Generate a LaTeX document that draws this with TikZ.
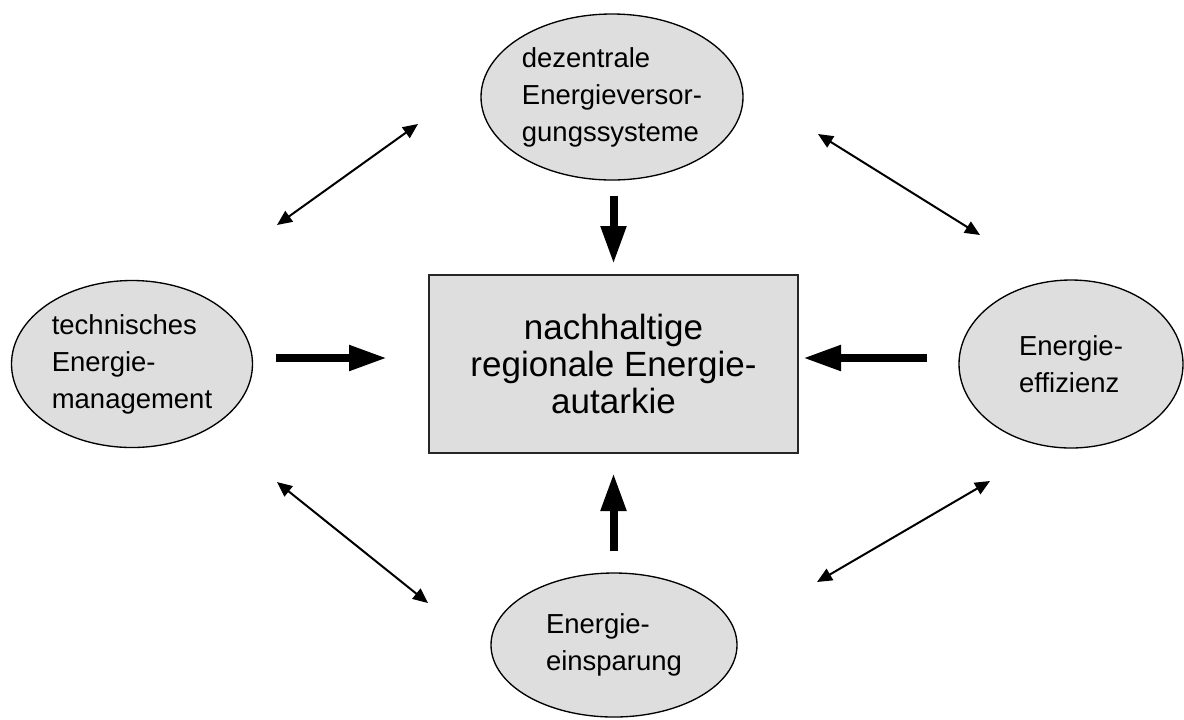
\documentclass[tikz,border=0pt]{standalone}
\usepackage{fontspec}
\setmainfont{Liberation Sans}
\usetikzlibrary{arrows.meta,shapes.geometric}
\begin{document}
\begin{tikzpicture}[x=0.75pt,y=-0.75pt,
  oval/.style={ellipse, draw=black, line width=1pt, fill=black!13, inner sep=0pt, align=left,
    font=\fontsize{20.6}{27.75}\selectfont},
  centerbox/.style={rectangle, draw=black!85, line width=1.5pt, fill=black!13, inner sep=0pt, align=center,
    minimum width=276.75pt, minimum height=133.5pt, font=\fontsize{26.25}{28}\selectfont},
  bigarrow/.style={line width=6pt, -{Triangle[length=28.5pt,width=18pt]}},
  linkarrow/.style={line width=1.5pt, {Triangle[length=11.25pt,width=9.75pt]}-{Triangle[length=11.25pt,width=9.75pt]}}]
\useasboundingbox (0,0) rectangle (1184,719);

\node[oval, minimum width=196.5pt, minimum height=124.5pt] (top) at (612,97)
  {dezentrale\\Energieversor-\\gungssysteme};
\node[oval, minimum width=180.75pt, minimum height=125.25pt] (left) at (132,364)
  {technisches\\Energie-\\management};
\node[oval, minimum width=168pt, minimum height=126pt] (right) at (1071,364)
  {Energie-\\effizienz};
\node[oval, minimum width=184.5pt, minimum height=108pt] (bottom) at (614,645)
  {Energie-\\einsparung};
\node[centerbox] (box) at (613.5,364)
  {nachhaltige\\regionale Energie-\\autarkie};

% thick arrows into the centre
\draw[bigarrow, shorten <=11.25pt, shorten >=7.5pt] (box.north |- top.south) -- (box.north);
\draw[bigarrow, shorten <=15.75pt, shorten >=14.25pt] (box.south |- bottom.north) -- (box.south);
\draw[bigarrow, shorten <=17.25pt, shorten >=30.75pt] ([yshift=4.5pt]left.east) -- ([yshift=4.5pt]box.west);
\draw[bigarrow, shorten <=23.25pt, shorten >=3pt] ([yshift=4.5pt]right.west) -- ([yshift=4.5pt]box.east);

% free ends of the two-headed links
\coordinate (tl1) at (418,124);
\coordinate (tl2) at (277,225);
\coordinate (tr1) at (818,134);
\coordinate (tr2) at (980,235);
\coordinate (bl1) at (277,482);
\coordinate (bl2) at (428,603);
\coordinate (br1) at (990,481);
\coordinate (br2) at (817,582);

\draw[linkarrow] (tl2) -- (tl1);
\draw[linkarrow] (tr1) -- (tr2);
\draw[linkarrow] (bl1) -- (bl2);
\draw[linkarrow] (br2) -- (br1);
\end{tikzpicture}
\end{document}
